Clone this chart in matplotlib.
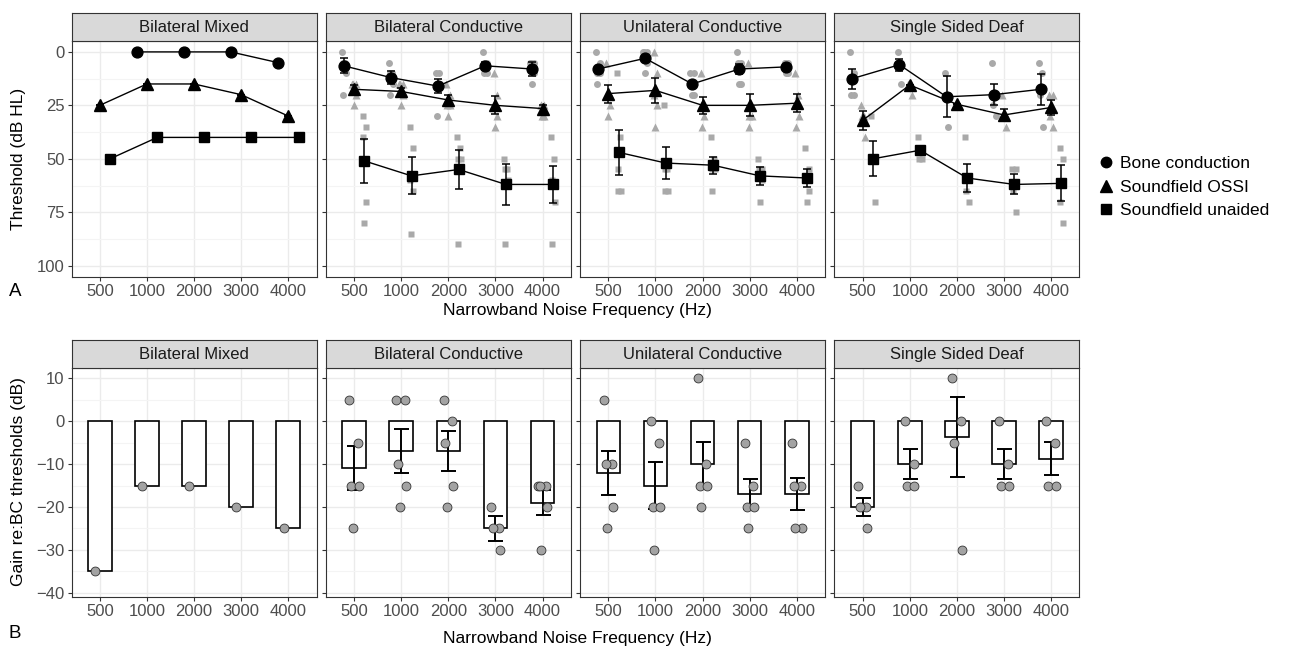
"""Hearing thresholds and OSSI gain by group, two-row faceted figure."""

import matplotlib

matplotlib.use("Agg")
import matplotlib.pyplot as plt
import numpy as np
from matplotlib.lines import Line2D

plt.rcParams["font.family"] = ["Liberation Sans", "DejaVu Sans"]

FREQS = ["500", "1000", "2000", "3000", "4000"]
GROUPS = ["Bilateral Mixed", "Bilateral Conductive", "Unilateral Conductive", "Single Sided Deaf"]

# panel A: group means and standard errors (dB HL), frequency order as FREQS
bone_mean = {
    "Bilateral Mixed": [np.nan, 0, 0, 0, 5],
    "Bilateral Conductive": [6.5, 12, 16, 6.5, 8],
    "Unilateral Conductive": [8, 3, 15, 8, 7],
    "Single Sided Deaf": [12.5, 6, 21, 20, 17.5],
}
bone_se = {
    "Bilateral Mixed": [0, 0, 0, 0, 0],
    "Bilateral Conductive": [3.5, 3.2, 3.2, 1.8, 3.2],
    "Unilateral Conductive": [1, 1, 1, 2.5, 1],
    "Single Sided Deaf": [4.7, 2.8, 9.5, 5, 7.3],
}
ossi_mean = {
    "Bilateral Mixed": [25, 15, 15, 20, 30],
    "Bilateral Conductive": [17.5, 18.5, 22.5, 25, 26.5],
    "Unilateral Conductive": [19.5, 18, 25, 25, 24],
    "Single Sided Deaf": [32, 15.5, 24.5, 29.5, 26],
}
ossi_se = {
    "Bilateral Mixed": [0, 0, 0, 0, 0],
    "Bilateral Conductive": [2, 1.5, 2.3, 4.2, 1.6],
    "Unilateral Conductive": [4.2, 5.9, 4, 5.1, 4.1],
    "Single Sided Deaf": [4.3, 0, 0, 2.7, 3.5],
}
unaided_mean = {
    "Bilateral Mixed": [50, 40, 40, 40, 40],
    "Bilateral Conductive": [51, 58, 55, 62, 62],
    "Unilateral Conductive": [47, 52, 53, 58, 59],
    "Single Sided Deaf": [50, 46, 59, 62, 61.5],
}
unaided_se = {
    "Bilateral Mixed": [0, 0, 0, 0, 0],
    "Bilateral Conductive": [10.2, 8.7, 9.3, 9.5, 8.6],
    "Unilateral Conductive": [10.4, 7.4, 4, 4.1, 4.1],
    "Single Sided Deaf": [8.1, 0, 6.6, 4.7, 8.4],
}

# panel A: individual thresholds (grey points)
bone_pts = {
    "Bilateral Mixed": [[], [0], [0], [0], [5]],
    "Bilateral Conductive": [[0, 5, 5, 10, 20], [5, 10, 10, 15, 20], [10, 10, 15, 15, 30],
                             [0, 5, 5, 10, 10], [5, 5, 5, 10, 15]],
    "Unilateral Conductive": [[0, 5, 10, 10, 15], [0, 0, 0, 5, 10], [10, 10, 15, 20, 20],
                              [0, 5, 5, 15, 15], [5, 5, 5, 10, 10]],
    "Single Sided Deaf": [[0, 10, 20, 20], [0, 5, 5, 15], [10, 20, 20, 35],
                          [5, 20, 25, 30], [5, 10, 20, 35]],
}
ossi_pts = {
    "Bilateral Mixed": [[25], [15], [15], [20], [30]],
    "Bilateral Conductive": [[15, 15, 15, 20, 25], [15, 15, 15, 20, 25], [15, 20, 25, 25, 30],
                             [10, 20, 25, 30, 35], [25, 25, 25, 30, 30]],
    "Unilateral Conductive": [[5, 20, 20, 25, 30], [0, 10, 20, 25, 35], [10, 25, 25, 30, 35],
                              [5, 25, 30, 30, 35], [10, 20, 25, 30, 35]],
    "Single Sided Deaf": [[25, 30, 30, 40], [15, 15, 15, 20], [25, 25, 25, 25],
                          [20, 30, 30, 35], [20, 20, 30, 35]],
}
unaided_pts = {
    "Bilateral Mixed": [[50], [40], [40], [40], [40]],
    "Bilateral Conductive": [[30, 35, 40, 70, 80], [35, 45, 60, 65, 85], [40, 45, 50, 50, 90],
                             [50, 55, 55, 60, 90], [40, 50, 60, 70, 90]],
    "Unilateral Conductive": [[10, 40, 55, 65, 65], [25, 55, 55, 65, 65], [40, 50, 55, 55, 65],
                              [50, 55, 55, 60, 70], [45, 55, 60, 65, 70]],
    "Single Sided Deaf": [[30, 50, 50, 70], [40, 45, 50, 50], [40, 60, 65, 70],
                          [55, 55, 65, 75], [45, 50, 70, 80]],
}

# panel B: gain re BC thresholds (dB)
gain_mean = {
    "Bilateral Mixed": [-35, -15, -15, -20, -25],
    "Bilateral Conductive": [-11, -7, -7, -25, -19],
    "Unilateral Conductive": [-12, -15, -10, -17, -17],
    "Single Sided Deaf": [-20, -10, -3.75, -10, -8.75],
}
gain_se = {
    "Bilateral Mixed": [0, 0, 0, 0, 0],
    "Bilateral Conductive": [5.1, 5.1, 4.7, 3, 2.9],
    "Unilateral Conductive": [5.1, 5.5, 5.2, 3.5, 3.8],
    "Single Sided Deaf": [2.1, 3.6, 9.3, 3.6, 3.8],
}
gain_pts = {
    "Bilateral Mixed": [[-35], [-15], [-15], [-20], [-25]],
    "Bilateral Conductive": [[5, -5, -15, -15, -25], [5, 5, -10, -15, -20], [5, 0, -5, -15, -20],
                             [-20, -25, -25, -30], [-15, -15, -15, -20, -30]],
    "Unilateral Conductive": [[5, -10, -10, -20, -25], [0, -5, -20, -20, -30], [10, -10, -15, -15, -20],
                              [-5, -15, -20, -20, -25], [-5, -15, -15, -25, -25]],
    "Single Sided Deaf": [[-15, -20, -20, -25], [0, -10, -15, -15], [10, 0, -5, -30],
                          [0, -10, -15, -15], [0, -5, -15, -15]],
}

# ---- layout (pixels on a 1295 x 647 canvas) ----
W, H = 1295, 647
PANEL_LEFT = [71.5, 325.8, 580.1, 834.4]
PANEL_W = 245
TOP_Y = (41, 277)        # plot area top/bottom
TOP_STRIP = (13, 41)
BOT_Y = (368, 597)
BOT_STRIP = (340, 368)

GRID_MAJOR = "#EBEBEB"
GRID_MINOR = "#F4F4F4"
BORDER = "#333333"
TICK_TXT = "#4D4D4D"
PT_GREY = "#A9A9A9"
DODGE = {"bone": -0.22, "ossi": 0.0, "unaided": 0.22}
JIT = [-0.1, 0.08, -0.06, 0.1, -0.03]

x = np.arange(1, len(FREQS) + 1)


def px_axes(fig, left, top, bottom):
    return fig.add_axes([left / W, 1 - bottom / H, PANEL_W / W, (bottom - top) / H])


def add_strip(fig, left, span, label):
    sax = px_axes(fig, left, span[0], span[1])
    sax.set_facecolor("#D9D9D9")
    sax.set_xticks([])
    sax.set_yticks([])
    for sp in sax.spines.values():
        sp.set_color(BORDER)
        sp.set_linewidth(0.8)
    sax.text(0.5, 0.48, label, ha="center", va="center", fontsize=12, color="#1A1A1A",
             transform=sax.transAxes)


def style_axes(ax, major, minor, show_y):
    ax.set_xlim(0.4, 5.6)
    ax.set_xticks(x)
    ax.set_xticklabels(FREQS)
    ax.set_yticks(major)
    ax.set_yticks(minor, minor=True)
    ax.tick_params(axis="y", which="minor", length=0)
    ax.grid(True, which="major", color=GRID_MAJOR, lw=1.0, zorder=0)
    ax.grid(True, which="minor", axis="y", color=GRID_MINOR, lw=0.8, zorder=0)
    ax.set_axisbelow(True)
    ax.tick_params(axis="both", which="major", length=3, width=0.8, color=BORDER,
                   labelsize=12, labelcolor=TICK_TXT, pad=2)
    if not show_y:
        ax.tick_params(axis="y", labelleft=False)
    for sp in ax.spines.values():
        sp.set_color(BORDER)
        sp.set_linewidth(0.8)


fig = plt.figure(figsize=(W / 100, H / 100), dpi=100)

series = [
    ("bone", "o", 7.8, 5.0, bone_mean, bone_se, bone_pts),
    ("ossi", "^", 8.8, 5.8, ossi_mean, ossi_se, ossi_pts),
    ("unaided", "s", 7.3, 4.8, unaided_mean, unaided_se, unaided_pts),
]

for i, group in enumerate(GROUPS):
    left = PANEL_LEFT[i]

    # ---- row A: thresholds ----
    ax = px_axes(fig, left, TOP_Y[0], TOP_Y[1])
    style_axes(ax, [0, 25, 50, 75, 100], [12.5, 37.5, 62.5, 87.5], i == 0)
    ax.set_ylim(105.3, -5.1)
    for key, mk, ms, ms_pt, means, ses, pts in series:
        xs = x + DODGE[key]
        for j, vals in enumerate(pts[group]):
            for k, v in enumerate(vals):
                ax.plot(xs[j] + 0.4 * JIT[k % len(JIT)], v, marker=mk, ms=ms_pt, color=PT_GREY,
                        mec="none", ls="none", zorder=2)
        m = np.array(means[group], dtype=float)
        se = np.array(ses[group], dtype=float)
        ax.errorbar(xs, m, yerr=se, fmt="none", ecolor="black", elinewidth=1.1, capsize=2.8,
                    capthick=1.1, zorder=3)
        ax.plot(xs, m, color="black", lw=1.0, zorder=4)
        ax.plot(xs, m, marker=mk, ms=ms, color="black", ls="none", zorder=5)
    add_strip(fig, left, TOP_STRIP, group)

    # ---- row B: gain ----
    bx = px_axes(fig, left, BOT_Y[0], BOT_Y[1])
    style_axes(bx, [10, 0, -10, -20, -30, -40], [5, -5, -15, -25, -35], i == 0)
    bx.set_ylim(-41, 12.4)
    bx.bar(x, gain_mean[group], width=0.5, color="white", edgecolor="black", lw=1.2, zorder=2)
    g_se = np.array(gain_se[group], dtype=float)
    has_err = g_se > 0
    bx.errorbar(x[has_err], np.array(gain_mean[group])[has_err], yerr=g_se[has_err], fmt="none",
                ecolor="black", elinewidth=1.4, capsize=5.4, capthick=1.4, zorder=3)
    for j, vals in enumerate(gain_pts[group]):
        for k, v in enumerate(vals):
            bx.plot(x[j] + JIT[k % len(JIT)], v, marker="o", ms=6.4, color="#A3A3A3", mec="#333333",
                    mew=0.6, ls="none", zorder=4)
    add_strip(fig, left, BOT_STRIP, group)

# axis titles and panel letters
fig.text(577 / W, 1 - 311 / H, "Narrowband Noise Frequency (Hz)", ha="center", va="center", fontsize=12.5)
fig.text(577 / W, 1 - 638 / H, "Narrowband Noise Frequency (Hz)", ha="center", va="center", fontsize=12.5)
fig.text(19 / W, 1 - 159 / H, "Threshold (dB HL)", rotation=90, ha="center", va="center", fontsize=12.5)
fig.text(19 / W, 1 - 482 / H, "Gain re:BC thresholds (dB)", rotation=90, ha="center", va="center",
         fontsize=12.5)
fig.text(15 / W, 1 - 291 / H, "A", ha="center", va="center", fontsize=13.5)
fig.text(15 / W, 1 - 634 / H, "B", ha="center", va="center", fontsize=13.5)

handles = [
    Line2D([], [], marker="o", ms=7.5, color="black", ls="none"),
    Line2D([], [], marker="^", ms=8.5, color="black", ls="none"),
    Line2D([], [], marker="s", ms=7.0, color="black", ls="none"),
]
fig.legend(handles, ["Bone conduction", "Soundfield OSSI", "Soundfield unaided"],
           loc="center left", bbox_to_anchor=(1089 / W, 1 - 187 / H), frameon=False,
           fontsize=12.5, handletextpad=0.2, labelspacing=0.5, borderaxespad=0, handlelength=1.2)

fig.savefig("out.png", dpi=100)
plt.close(fig)
